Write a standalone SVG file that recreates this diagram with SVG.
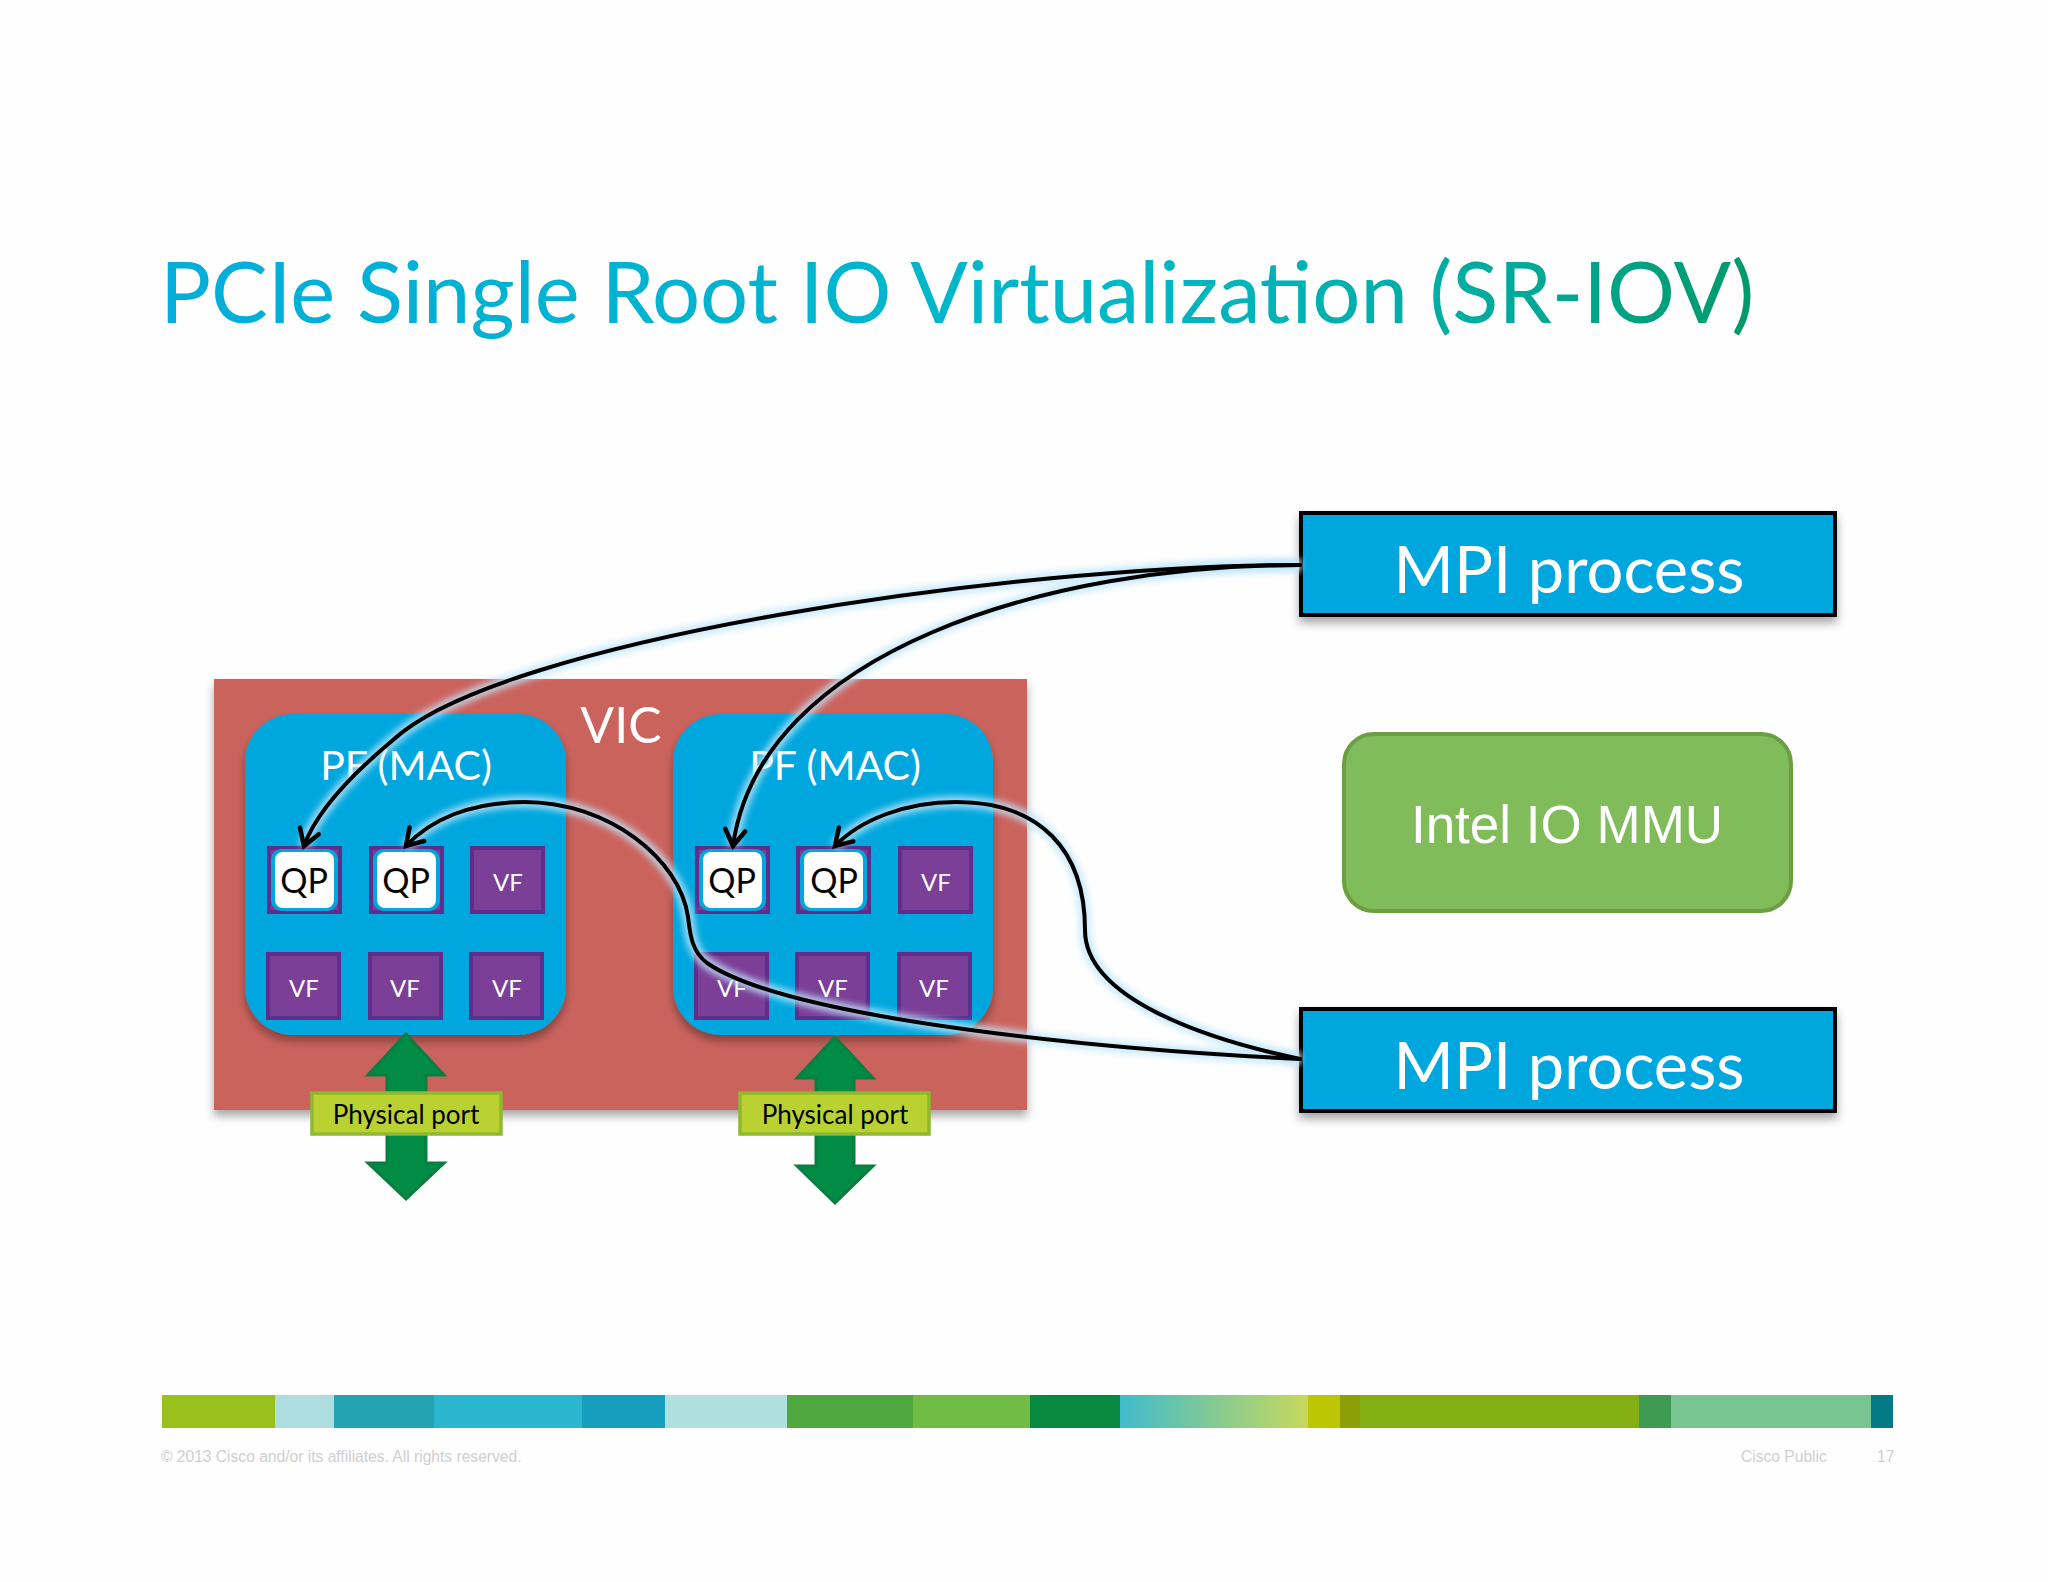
<svg xmlns="http://www.w3.org/2000/svg" width="2048" height="1582" viewBox="0 0 2048 1582">
<style>
text{font-family:"Lato","Liberation Sans",sans-serif}
.c{text-anchor:middle}
.w{fill:#fff}
.pf{fill:#00a7de}
.vf{fill:#7b3f98;stroke:#5f2e8c;stroke-width:4}
.vft{fill:#fff;font-size:24px;text-anchor:middle}
.qpbg{fill:#00a7de;stroke:#00a7de;stroke-width:2}
.qp{fill:#fff;stroke:none}
.qpt{fill:#000;font-size:34px;text-anchor:middle}
.mpi{fill:#00a7de;stroke:#060606;stroke-width:4}
.port{fill:#b9d232;stroke:#8fb82e;stroke-width:3.5}
.portt{fill:#000;font-size:26px;text-anchor:middle}
.arrow{fill:#008c45;stroke:#0a7d41;stroke-width:3}
.wire{fill:none;stroke:#000;stroke-width:4;stroke-linecap:round;marker-end:url(#v)}
.glow{fill:none;stroke:#bfe6fb;stroke-width:12;opacity:.8;filter:url(#blur)}
.foot{fill:#cfcfcf;font-family:"Liberation Sans",Arial,sans-serif;font-size:15.6px}
</style>
<defs>
<linearGradient id="tg" gradientUnits="userSpaceOnUse" x1="160" y1="0" x2="1745" y2="0">
<stop offset="0" stop-color="#00aedb"/><stop offset=".6" stop-color="#00b8c8"/><stop offset=".85" stop-color="#00ab9c"/><stop offset="1" stop-color="#009a6b"/>
</linearGradient>
<linearGradient id="bg1" x1="0" x2="1" y1="0" y2="0">
<stop offset="0" stop-color="#3fbccb"/><stop offset="1" stop-color="#c8d85c"/>
</linearGradient>
<filter id="sh" x="-10%" y="-10%" width="120%" height="130%"><feDropShadow dx="0" dy="6" stdDeviation="5" flood-color="#000" flood-opacity=".35"/></filter>
<filter id="blur" x="-10%" y="-10%" width="120%" height="120%"><feGaussianBlur stdDeviation="3"/></filter>
<marker id="v" markerUnits="userSpaceOnUse" markerWidth="30" markerHeight="30" refX="22" refY="15" orient="auto" overflow="visible">
<path d="M6 5 L22 15 L6 25" fill="none" stroke="#000" stroke-width="4.5" stroke-linecap="round"/>
</marker>
<path id="w1" d="M1300 565 C 1010 565 500 640 393 740 C 345 780 315 815 304 846"/>
<path id="w2" d="M1300 565 C 1050 565 760 650 733 846"/>
<path id="w3" d="M1300 1059 C 1110 1050 790 1020 707 963 C 690 950 690 930 688 917 C 680 860 610 802 524 802 C 470 802 430 820 406 846"/>
<path id="w4" d="M1300 1059 C 1210 1040 1085 1000 1085 930 C 1085 850 1040 802 956 802 C 905 802 860 820 835 846"/>
</defs>
<rect width="2048" height="1582" fill="#fefefe"/>
<text id="title" x="160" y="323" font-size="85" fill="url(#tg)">PCIe Single Root IO Virtualization (SR-IOV)</text>

<g id="vic">
<rect x="214" y="679" width="813" height="431" fill="#cb635d" filter="url(#sh)"/>
<text class="w c" x="621" y="743" font-size="50">VIC</text>
</g>

<g id="pf1">
<rect class="pf" x="245" y="714" width="321" height="321" rx="48" filter="url(#sh)"/>
<text class="w c" x="406" y="780" font-size="41">PF (MAC)</text>
<g id="qp1"><rect class="vf" x="269" y="848" width="71" height="64"/><rect class="qpbg" x="272" y="850" width="65" height="60" rx="10"/><rect class="qp" x="275" y="852" width="59" height="56" rx="8"/><text class="qpt" x="304" y="893">QP</text></g>
<g id="qp2"><rect class="vf" x="371" y="848" width="71" height="64"/><rect class="qpbg" x="374" y="850" width="65" height="60" rx="10"/><rect class="qp" x="377" y="852" width="59" height="56" rx="8"/><text class="qpt" x="406" y="893">QP</text></g>
<g id="vf1"><rect class="vf" x="472" y="848" width="71" height="64"/><text class="vft" x="508" y="891">VF</text></g>
<g id="vf2"><rect class="vf" x="268" y="954" width="71" height="64"/><text class="vft" x="304" y="997">VF</text></g>
<g id="vf3"><rect class="vf" x="370" y="954" width="71" height="64"/><text class="vft" x="405" y="997">VF</text></g>
<g id="vf4"><rect class="vf" x="471" y="954" width="71" height="64"/><text class="vft" x="507" y="997">VF</text></g>
</g>

<g id="pf2">
<rect class="pf" x="673" y="714" width="320" height="321" rx="48" filter="url(#sh)"/>
<text class="w c" x="835" y="780" font-size="41">PF (MAC)</text>
<g id="qp3"><rect class="vf" x="697" y="848" width="71" height="64"/><rect class="qpbg" x="700" y="850" width="65" height="60" rx="10"/><rect class="qp" x="703" y="852" width="59" height="56" rx="8"/><text class="qpt" x="732" y="893">QP</text></g>
<g id="qp4"><rect class="vf" x="798" y="848" width="71" height="64"/><rect class="qpbg" x="801" y="850" width="65" height="60" rx="10"/><rect class="qp" x="804" y="852" width="59" height="56" rx="8"/><text class="qpt" x="834" y="893">QP</text></g>
<g id="vf5"><rect class="vf" x="900" y="848" width="71" height="64"/><text class="vft" x="936" y="891">VF</text></g>
<g id="vf6"><rect class="vf" x="696" y="954" width="71" height="64"/><text class="vft" x="732" y="997">VF</text></g>
<g id="vf7"><rect class="vf" x="797" y="954" width="71" height="64"/><text class="vft" x="833" y="997">VF</text></g>
<g id="vf8"><rect class="vf" x="899" y="954" width="71" height="64"/><text class="vft" x="934" y="997">VF</text></g>
</g>

<g id="port1">
<path class="arrow" d="M406 1034 L444 1075 L426 1075 L426 1163 L444 1163 L406 1199 L368 1163 L387 1163 L387 1075 L368 1075 Z"/>
<rect class="port" x="312" y="1093" width="189" height="41"/>
<text class="portt" x="406" y="1124">Physical port</text>
</g>
<g id="port2">
<path class="arrow" d="M835 1037 L873 1078 L854 1078 L854 1166 L873 1166 L835 1203 L797 1166 L816 1166 L816 1078 L797 1078 Z"/>
<rect class="port" x="740" y="1093" width="189" height="41"/>
<text class="portt" x="835" y="1124">Physical port</text>
</g>

<g id="mpi1">
<rect class="mpi" x="1301" y="513" width="534" height="102" filter="url(#sh)"/>
<text class="w c" x="1569" y="593" font-size="65">MPI process</text>
</g>
<g id="mmu">
<rect x="1344" y="734" width="447" height="177" rx="30" fill="#80bc59" stroke="#6c9f45" stroke-width="4"/>
<text class="w c" x="1567" y="843" font-size="53" style="font-family:'Liberation Sans',Arial,sans-serif">Intel IO MMU</text>
</g>
<g id="mpi2">
<rect class="mpi" x="1301" y="1009" width="534" height="102" filter="url(#sh)"/>
<text class="w c" x="1569" y="1089" font-size="65">MPI process</text>
</g>

<g id="connectors">
<use href="#w1" class="glow"/><use href="#w2" class="glow"/><use href="#w3" class="glow"/><use href="#w4" class="glow"/>
<use href="#w1" class="wire"/><use href="#w2" class="wire"/><use href="#w3" class="wire"/><use href="#w4" class="wire"/>
</g>

<g id="colorbar">
<rect x="162" y="1395" width="114" height="33" fill="#98c11d"/>
<rect x="275" y="1395" width="59" height="33" fill="#aedde0"/>
<rect x="334" y="1395" width="100" height="33" fill="#24a4b3"/>
<rect x="434" y="1395" width="148" height="33" fill="#2bb6cf"/>
<rect x="582" y="1395" width="83" height="33" fill="#179ebf"/>
<rect x="665" y="1395" width="122" height="33" fill="#b0dfe0"/>
<rect x="787" y="1395" width="126" height="33" fill="#4ea83d"/>
<rect x="913" y="1395" width="117" height="33" fill="#70bc44"/>
<rect x="1030" y="1395" width="90" height="33" fill="#078a3f"/>
<rect x="1120" y="1395" width="188" height="33" fill="url(#bg1)"/>
<rect x="1308" y="1395" width="32" height="33" fill="#bdc602"/>
<rect x="1340" y="1395" width="20" height="33" fill="#8c9f05"/>
<rect x="1360" y="1395" width="279" height="33" fill="#84af12"/>
<rect x="1639" y="1395" width="32" height="33" fill="#3e9c52"/>
<rect x="1671" y="1395" width="200" height="33" fill="#78c591"/>
<rect x="1871" y="1395" width="22" height="33" fill="#047a87"/>
</g>
<text id="copyright" class="foot" x="161" y="1462">© 2013 Cisco and/or its affiliates. All rights reserved.</text>
<text id="public" class="foot" x="1741" y="1462">Cisco Public</text>
<text id="page" class="foot" x="1877" y="1462">17</text>
</svg>
